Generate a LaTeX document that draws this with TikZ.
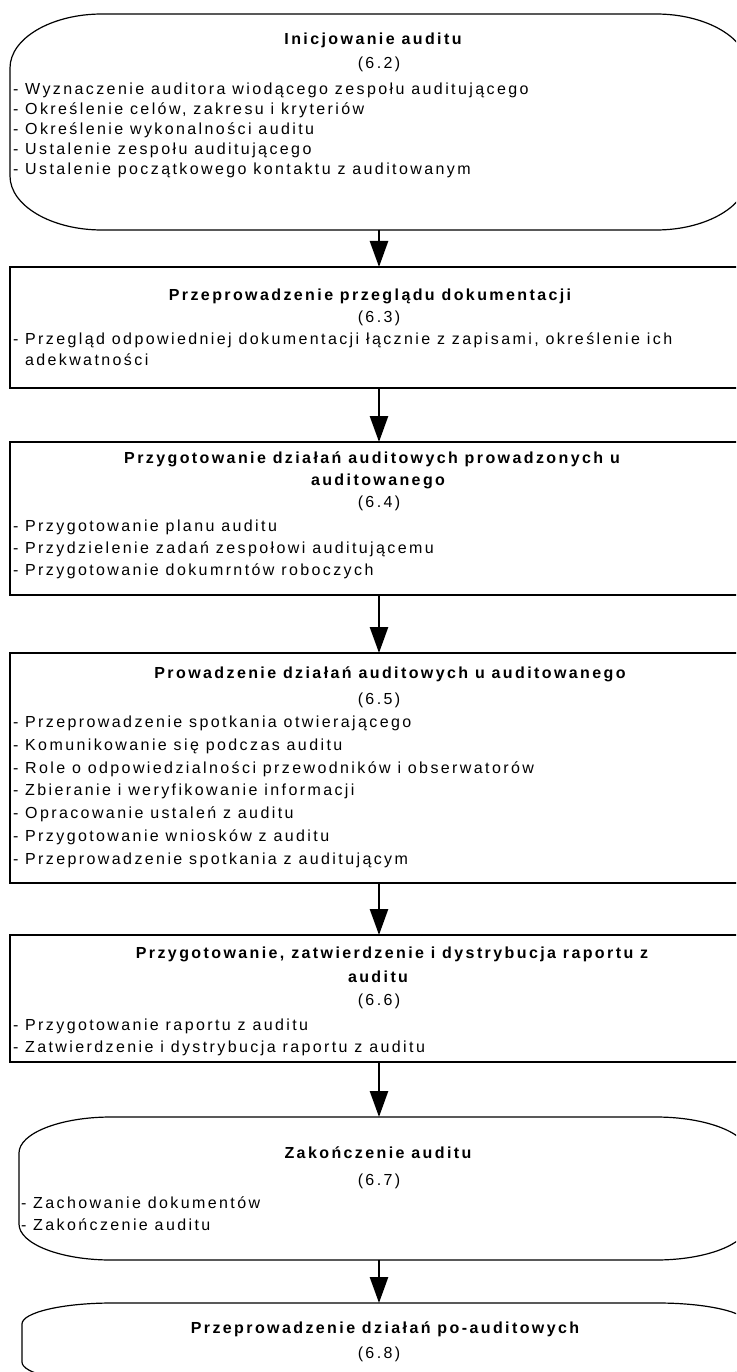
\documentclass[tikz,border=0pt]{standalone}
\usepackage{fontspec}
\setmainfont{Liberation Sans}[LetterSpace=15]
\usetikzlibrary{arrows.meta}
\newcommand\myoval[3]{%
\draw[frame] ([yshift=-#3]#1.north west)
 .. controls ([yshift=-0.45*#3]#1.north west) and ([xshift=0.45*#2]#1.north west) .. ([xshift=#2]#1.north west)
 -- ([xshift=-#2]#1.north east)
 .. controls ([xshift=-0.45*#2]#1.north east) and ([yshift=-0.45*#3]#1.north east) .. ([yshift=-#3]#1.north east)
 -- ([yshift=#3]#1.south east)
 .. controls ([yshift=0.45*#3]#1.south east) and ([xshift=-0.45*#2]#1.south east) .. ([xshift=-#2]#1.south east)
 -- ([xshift=#2]#1.south west)
 .. controls ([xshift=0.45*#2]#1.south west) and ([yshift=0.45*#3]#1.south west) .. ([yshift=#3]#1.south west)
 -- cycle;}
\tikzset{
 frame/.style={draw=black, line width=1.2pt},
 boxshape/.style={rectangle, inner sep=0pt, outer sep=0pt, anchor=north west},
 rectbox/.style={boxshape, frame},
 txt/.style={inner sep=0pt, outer sep=0pt, font=\fontsize{16}{19}\selectfont},
 item/.style={txt, anchor=base west},
 head/.style={txt, anchor=base, font=\fontsize{16}{19}\selectfont\bfseries},
 num/.style={txt, anchor=base},
 arr/.style={draw=black, line width=2.6pt, -{Triangle[width=18pt,length=26pt]}},
}
\begin{document}
\begin{tikzpicture}[x=1pt,y=-1pt]
\useasboundingbox (0,0) rectangle (736,1372);
\fill[white] (0,0) rectangle (736,1372);
\clip (0,0) rectangle (736,1372);

% Box 1
\node[boxshape, minimum width=738pt, minimum height=216pt] (b1) at (10,14) {};
\myoval{b1}{92pt}{54pt}
\node[head] (b1t) at (373,45) {Inicjowanie auditu};
\node[num] (b1n) at (379,69) {(6.2)};
\node[item] (b1a) at (13,95) {- Wyznaczenie auditora wiodącego zespołu auditującego};
\node[item] (b1b) at (13,115) {- Określenie celów, zakresu i kryteriów};
\node[item] (b1c) at (13,135) {- Określenie wykonalności auditu};
\node[item] (b1d) at (13,155) {- Ustalenie zespołu auditującego};
\node[item] (b1e) at (13,175) {- Ustalenie początkowego kontaktu z auditowanym};

% Box 2
\node[rectbox, minimum width=738pt, minimum height=121pt] (b2) at (10,267) {};
\node[head] (b2t) at (370,300) {Przeprowadzenie przeglądu dokumentacji};
\node[num] (b2n) at (379,322) {(6.3)};
\node[item] (b2a) at (13,344) {- Przegląd odpowiedniej dokumentacji łącznie z zapisami, określenie ich};
\node[item] (b2b) at (25,365) {adekwatności};

% Box 3
\node[rectbox, minimum width=738pt, minimum height=153pt] (b3) at (10,442) {};
\node[head] (b3t) at (372,463) {Przygotowanie działań auditowych prowadzonych u};
\node[head] (b3u) at (378,485) {auditowanego};
\node[num] (b3n) at (379,507) {(6.4)};
\node[item] (b3a) at (13,531) {- Przygotowanie planu auditu};
\node[item] (b3b) at (13,553) {- Przydzielenie zadań zespołowi auditującemu};
\node[item] (b3c) at (13,575) {- Przygotowanie dokumrntów roboczych};

% Box 4
\node[rectbox, minimum width=738pt, minimum height=230pt] (b4) at (10,653) {};
\node[head] (b4t) at (390,678) {Prowadzenie działań auditowych u auditowanego};
\node[num] (b4n) at (379,704) {(6.5)};
\node[item] (b4a) at (13,727) {- Przeprowadzenie spotkania otwierającego};
\node[item] (b4b) at (13,750) {- Komunikowanie się podczas auditu};
\node[item] (b4c) at (13,773) {- Role o odpowiedzialności przewodników i obserwatorów};
\node[item] (b4d) at (13,795) {- Zbieranie i weryfikowanie informacji};
\node[item] (b4e) at (13,818) {- Opracowanie ustaleń z auditu};
\node[item] (b4f) at (13,841) {- Przygotowanie wniosków z auditu};
\node[item] (b4g) at (13,864) {- Przeprowadzenie spotkania z auditującym};

% Box 5
\node[rectbox, minimum width=738pt, minimum height=127pt] (b5) at (10,935) {};
\node[head] (b5t) at (392,958) {Przygotowanie, zatwierdzenie i dystrybucja raportu z};
\node[head] (b5u) at (378,982) {auditu};
\node[num] (b5n) at (379,1005) {(6.6)};
\node[item] (b5a) at (13,1030) {- Przygotowanie raportu z auditu};
\node[item] (b5b) at (13,1052) {- Zatwierdzenie i dystrybucja raportu z auditu};

% Box 6
\node[boxshape, minimum width=729pt, minimum height=143pt] (b6) at (19,1117) {};
\myoval{b6}{92pt}{36pt}
\node[head] (b6t) at (378,1158) {Zakończenie auditu};
\node[num] (b6n) at (379,1185) {(6.7)};
\node[item] (b6a) at (21,1208) {- Zachowanie dokumentów};
\node[item] (b6b) at (21,1230) {- Zakończenie auditu};

% Box 7
\node[boxshape, minimum width=726pt, minimum height=80pt] (b7) at (22,1303) {};
\myoval{b7}{90pt}{21pt}
\node[head] (b7t) at (385,1333) {Przeprowadzenie działań po-auditowych};
\node[num] (b7n) at (379,1358) {(6.8)};

% Arrows
\draw[arr] (b1.south) -- (b2.north);
\draw[arr] (b2.south) -- (b3.north);
\draw[arr] (b3.south) -- (b4.north);
\draw[arr] (b4.south) -- (b5.north);
\draw[arr] (b5.south) -- (b5.south |- b6.north);
\draw[arr] (b5.south |- b6.south) -- (b5.south |- b7.north);
\end{tikzpicture}
\end{document}
